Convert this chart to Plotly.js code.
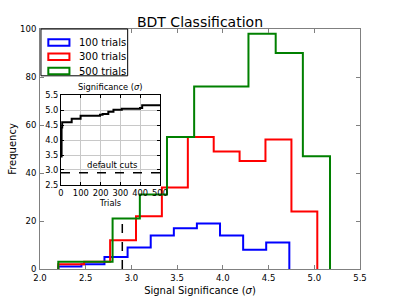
<!DOCTYPE html>
<html>
<head>
<meta charset="utf-8">
<script src="https://cdn.plot.ly/plotly-3.0.1.min.js"></script>
<style>html,body{margin:0;padding:0;background:#fff;}#chart{width:400px;height:300px;}</style>
</head>
<body>
<div id="chart"></div>
<script>
// ---- Data ----
const seriesNames = ["100 trials", "300 trials", "500 trials"];
const blueEdges  = [2.200, 2.453, 2.705, 2.958, 3.211, 3.464, 3.716, 3.969, 4.222, 4.474, 4.727];
const blueCounts = [1, 2, 5, 9, 14, 17, 19, 14, 8, 11];
const redEdges   = [2.200, 2.483, 2.767, 3.050, 3.333, 3.617, 3.900, 4.183, 4.466, 4.750, 5.033];
const redCounts  = [2, 3, 12, 22, 34, 55, 49, 45, 54, 24];
const greenEdges = [2.200, 2.497, 2.794, 3.092, 3.389, 3.686, 3.983, 4.280, 4.578, 4.875, 5.172];
const greenCounts= [3, 3, 21, 31, 55, 76, 76, 98, 90, 47];
const defaultCutSig = 2.9;
const defaultCutHeight = 21;
// inset: best significance vs number of trials
const insetTrials = [0, 3, 6, 54, 99, 197, 210, 239, 265, 307, 399, 410, 500];
const insetBest   = [3.45, 4.42, 4.60, 4.72, 4.82, 4.85, 4.88, 4.95, 5.02, 5.05, 5.08, 5.17, 5.17];
const insetTrialRange = [0, 500];
const mainXTicks = [2.0, 2.5, 3.0, 3.5, 4.0, 4.5, 5.0, 5.5];
const insetXTicks = [0, 100, 200, 300, 400, 500];
const insetYTicks = [2.5, 3.0, 3.5, 4.0, 4.5, 5.0, 5.5];

const colors = ["#0000ff", "#ff0000", "#008000"];
const FONT = "DejaVu Sans, Bitstream Vera Sans, sans-serif";

function stepOutline(edges, counts) {
  const x = [edges[0]], y = [0];
  for (let i = 0; i < counts.length; i++) {
    x.push(edges[i], edges[i + 1]);
    y.push(counts[i], counts[i]);
  }
  x.push(edges[edges.length - 1]); y.push(0);
  return {x, y};
}

const hists = [[blueEdges, blueCounts], [redEdges, redCounts], [greenEdges, greenCounts]];
const traces = [];
hists.forEach((h, i) => {
  const s = stepOutline(h[0], h[1]);
  traces.push({
    type: "scatter", mode: "lines", x: s.x, y: s.y,
    line: {color: colors[i], width: 2}, name: seriesNames[i],
    showlegend: false, hoverinfo: "skip", xaxis: "x", yaxis: "y"
  });
});
// default cut line in main plot
traces.push({
  type: "scatter", mode: "lines", x: [defaultCutSig, defaultCutSig], y: [0, defaultCutHeight],
  line: {color: "#000", width: 1.5, dash: "dash"}, showlegend: false, hoverinfo: "skip",
  xaxis: "x", yaxis: "y"
});
// inset best significance
traces.push({
  type: "scatter", mode: "lines", x: insetTrials, y: insetBest,
  line: {color: "#000", width: 2, shape: "hv"}, showlegend: false, hoverinfo: "skip",
  xaxis: "x2", yaxis: "y2"
});
// inset default cuts
traces.push({
  type: "scatter", mode: "lines", x: insetTrialRange, y: [defaultCutSig, defaultCutSig],
  line: {color: "#000", width: 1.5, dash: "dash"}, showlegend: false, hoverinfo: "skip",
  xaxis: "x2", yaxis: "y2"
});

// matplotlib-style legend box (outlined patches), drawn in paper coordinates
const legBox = {x0: 0.003, x1: 0.274, y0: 0.805, y1: 1.0};
const legRows = [0.944, 0.8846, 0.825];
const shapes = [{type: "rect", xref: "paper", yref: "paper", x0: legBox.x0, x1: legBox.x1,
  y0: legBox.y0, y1: legBox.y1, line: {color: "#000", width: 1}, fillcolor: "#ffffff", layer: "above"}];
const annotations = [];
seriesNames.forEach((n, i) => {
  shapes.push({type: "rect", xref: "paper", yref: "paper", x0: 0.026, x1: 0.092,
    y0: legRows[i] - 0.0135, y1: legRows[i] + 0.0135,
    line: {color: colors[i], width: 2}, fillcolor: "rgba(255,255,255,0)", layer: "above"});
  annotations.push({text: n, xref: "paper", yref: "paper", x: 0.116, y: legRows[i],
    xanchor: "left", yanchor: "middle", showarrow: false,
    font: {family: FONT, size: 10, color: "#000"}});
});
annotations.push(
  {text: "Significance (<i>σ</i>)", xref: "x2", yref: "paper", x: 250, y: 0.723,
   xanchor: "center", yanchor: "bottom", yshift: 1, showarrow: false,
   font: {family: FONT, size: 8.3, color: "#000"}},
  {text: "default cuts", xref: "x2", yref: "y2", x: 260, y: defaultCutSig,
   xanchor: "center", yanchor: "bottom", yshift: 1, showarrow: false,
   font: {family: FONT, size: 8.5, color: "#000"}}
);

const grey = "#808080";
const layout = {
  width: 400, height: 300,
  margin: {l: 40, r: 40, t: 29, b: 31, pad: 0},
  paper_bgcolor: "#ffffff", plot_bgcolor: "#ffffff",
  font: {family: FONT, color: "#000", size: 8.5},
  showlegend: false,
  title: {text: "BDT Classification", font: {family: FONT, size: 14, color: "#000"},
          x: 0.5, xref: "paper", y: 0.928, yref: "container", yanchor: "middle"},
  xaxis: {
    domain: [0, 1], range: [2.0, 5.5], tickvals: mainXTicks, tickformat: ".1f",
    ticks: "inside", ticklen: 4, tickcolor: grey, linecolor: grey, linewidth: 1, mirror: "ticks",
    showgrid: false, zeroline: false, tickfont: {size: 8.5, color: "#000"}, ticklabelstandoff: 1,
    title: {text: "Signal Significance (<i>σ</i>)", font: {size: 10, color: "#000"}, standoff: 4}
  },
  yaxis: {
    domain: [0, 1], range: [0, 100], dtick: 20,
    ticks: "inside", ticklen: 4, tickcolor: grey, linecolor: grey, linewidth: 1, mirror: "ticks",
    showgrid: false, zeroline: false, tickfont: {size: 8.5, color: "#000"}, ticklabelstandoff: 1,
    title: {text: "Frequency", font: {size: 10, color: "#000"}, standoff: 1}
  },
  xaxis2: {
    domain: [0.0656, 0.375], anchor: "y2", range: insetTrialRange, tickvals: insetXTicks,
    ticks: "inside", ticklen: 3, tickcolor: "#000", linecolor: "#000", linewidth: 1, mirror: "ticks",
    showgrid: true, gridcolor: "#c8c8c8", zeroline: false, tickfont: {size: 8.3, color: "#000"},
    title: {text: "Trials", font: {size: 8.3, color: "#000"}, standoff: 3}
  },
  yaxis2: {
    domain: [0.351, 0.723], anchor: "x2", range: [2.5, 5.5], tickvals: insetYTicks, tickformat: ".1f",
    ticks: "inside", ticklen: 3, tickcolor: "#000", linecolor: "#000", linewidth: 1, mirror: "ticks",
    showgrid: true, gridcolor: "#c8c8c8", zeroline: false, tickfont: {size: 8.3, color: "#000"}
  },
  shapes: shapes,
  annotations: annotations
};

Plotly.newPlot("chart", traces, layout, {displayModeBar: false, staticPlot: true});
</script>
</body>
</html>
